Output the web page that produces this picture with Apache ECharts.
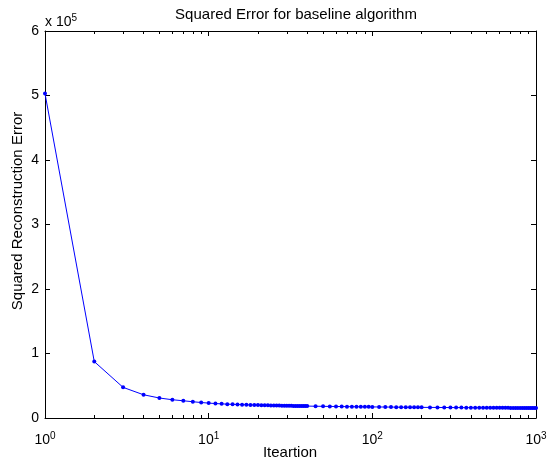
<!DOCTYPE html>
<html><head><meta charset="utf-8">
<script src="https://cdn.jsdelivr.net/npm/echarts@6/dist/echarts.min.js"></script>
<style>html,body{margin:0;padding:0;background:#fff}#c{width:548px;height:461px}</style>
</head><body><div id="c"></div>
<script>
const iterations = [1,2,3,4,5,6,7,8,9,10,11,12,13,14,15,16,17,18,19,20,21,22,23,24,25,26,27,28,29,30,31,32,33,34,35,36,37,38,39,40,
  45,50,55,60,65,70,75,80,85,90,95,100,110,120,130,140,150,160,170,180,190,200,
  225,250,275,300,325,350,375,400,425,450,475,500,525,550,575,600,625,650,675,700,725,750,775,800,825,850,875,900,925,950,975,1000];
const errors = [503000,87500,47500,36000,31000,28300,26700,25200,24000,23100,22400,21900,21500,21200,20900,20700,20500,20300,20150,20000,
  19850,19700,19600,19500,19400,19300,19200,19120,19050,18980,18910,18850,18790,18730,18680,18630,18580,18530,18490,18450,
  18250,18080,17940,17820,17710,17620,17530,17450,17380,17310,17250,17190,17080,16990,16910,16840,16770,16710,16660,16610,16560,16520,
  16420,16340,16270,16210,16150,16100,16060,16020,15980,15940,15910,15880,15850,15820,15800,15770,15750,15730,15710,15690,15670,15650,15630,15610,15600,15580,15570,15550,15540,15520,15510,15500];
const majorXTicks = [1,10,100,1000];
const minorXTicks = [2,3,4,5,6,7,8,9,20,30,40,50,60,70,80,90,200,300,400,500,600,700,800,900];
const yTicks = [0,100000,200000,300000,400000,500000,600000];
const titleText = 'Squared Error for baseline algorithm';
const xName = 'Iteartion';
const yName = 'Squared Reconstruction Error';

const FONT = 'Liberation Sans, Arial, sans-serif';
const chart = echarts.init(document.getElementById('c'), null, {renderer:'canvas'});
const pairs = iterations.map((x,i)=>[x, errors[i]]);
const supRich = {
  b:{fontSize:14, fontFamily:FONT, color:'#000', verticalAlign:'bottom', lineHeight:16},
  s:{fontSize:10, fontFamily:FONT, color:'#000', verticalAlign:'top', lineHeight:12, padding:[0,0,8,0]}
};
function logAx(pos, showLabels, ticks, len, showLine){
  return {
    type:'log', logBase:10, min:1, max:1000, position:pos,
    axisLine:{show:showLine, onZero:false, lineStyle:{color:'#000', width:1}},
    axisTick:{show:true, inside:true, length:len, customValues:ticks, lineStyle:{color:'#000', width:1}},
    axisLabel:{show:showLabels, customValues:ticks, margin:13, formatter:function(v){
      return '{b|10}{s|' + Math.round(Math.log10(v)) + '}';
    }, rich:supRich},
    splitLine:{show:false}, minorTick:{show:false}
  };
}
chart.setOption({
  animation:false,
  backgroundColor:'#fff',
  title:{text:titleText, left:291, textAlign:'center', top:2,
    textStyle:{fontSize:15, fontWeight:'normal', fontFamily:FONT, color:'#000'}},
  grid:{left:45, right:12, top:31, bottom:43, containLabel:false, outerBoundsMode:'none'},
  xAxis:[
    logAx('bottom', true, majorXTicks, 5, true),
    logAx('bottom', false, minorXTicks, 3, false),
    logAx('top', false, majorXTicks, 5, true),
    logAx('top', false, minorXTicks, 3, false)
  ],
  yAxis:[
    {type:'value', min:0, max:600000, interval:100000, position:'left',
     axisLine:{show:true, lineStyle:{color:'#000'}},
     axisTick:{show:true, inside:true, length:5, lineStyle:{color:'#000'}},
     axisLabel:{fontSize:14, fontFamily:FONT, color:'#000', margin:6, formatter:v=>String(v/100000)},
     splitLine:{show:false},
     name:'{a|x 10}{s|5}', nameLocation:'end', nameGap:2,
     nameTextStyle:{align:'left', padding:[0,0,0,0], rich:{a:{fontSize:14, fontFamily:FONT, color:'#000', verticalAlign:'bottom', lineHeight:16}, s:{fontSize:10, fontFamily:FONT, color:'#000', verticalAlign:'top', lineHeight:12, padding:[0,0,8,0]}}}
    },
    {type:'value', min:0, max:600000, interval:100000, position:'right',
     axisLine:{show:true, lineStyle:{color:'#000'}},
     axisTick:{show:true, inside:true, length:5, lineStyle:{color:'#000'}},
     axisLabel:{show:false}, splitLine:{show:false}}
  ],
  graphic:[
    {type:'text', x:18, y:211, rotation:Math.PI/2,
     style:{text:yName, fontSize:15, fontFamily:FONT, fill:'#000', align:'center', verticalAlign:'middle'}},
    {type:'text', x:290, y:453,
     style:{text:xName, fontSize:15, fontFamily:FONT, fill:'#000', align:'center', verticalAlign:'middle'}}
  ],
  series:[{
    type:'line', data:pairs, xAxisIndex:0, yAxisIndex:0,
    symbol:'circle', symbolSize:4, showSymbol:true,
    lineStyle:{color:'#0000ff', width:1}, itemStyle:{color:'#0000ff'}
  }]
});
</script></body></html>
